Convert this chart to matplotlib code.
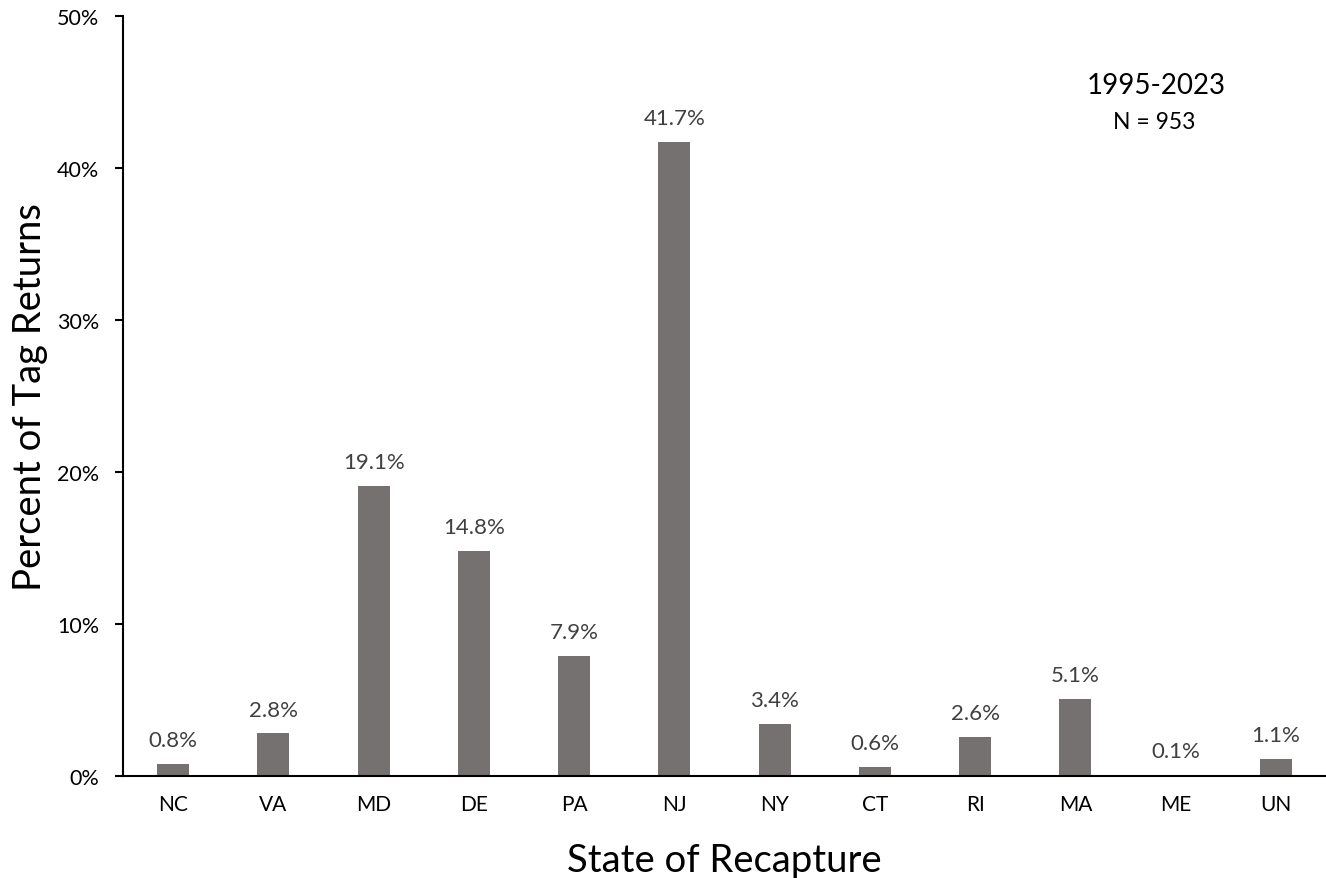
import matplotlib.pyplot as plt
import numpy as np

plt.rcParams['font.family'] = ['Lato', 'DejaVu Sans']

# Tag returns by state of recapture
states = ['NC', 'VA', 'MD', 'DE', 'PA', 'NJ', 'NY', 'CT', 'RI', 'MA', 'ME', 'UN']
percents = [0.8, 2.8, 19.1, 14.8, 7.9, 41.7, 3.4, 0.6, 2.6, 5.1, 0.1, 1.1]
yticks = [0, 10, 20, 30, 40, 50]

fig = plt.figure(figsize=(13.26, 8.79), dpi=100)
ax = fig.add_axes([0.0928, 0.116, 0.9072, 0.8647])

x = np.arange(len(states))
bars = ax.bar(x, percents, width=0.32, color='#767171')

# Value labels above each bar
for xi, val in zip(x, percents):
    ax.annotate(f'{val:.1f}%', (xi, val), xytext=(0, 10), textcoords='offset points',
                ha='center', va='bottom', fontsize=16, color='#404040')

ax.set_xlim(-0.5, len(states) - 0.5)
ax.set_ylim(0, 50)
ax.set_xticks(x)
ax.set_xticklabels(states, fontsize=15)
ax.set_yticks(yticks)
ax.set_yticklabels([f'{t}%' for t in yticks], fontsize=15.5)
ax.tick_params(axis='x', length=0, pad=13)
ax.tick_params(axis='y', length=6, width=1.5, direction='out', pad=11)

for side in ['top', 'right']:
    ax.spines[side].set_visible(False)
for side in ['left', 'bottom']:
    ax.spines[side].set_linewidth(1.5)

ax.set_ylabel('Percent of Tag Returns', fontsize=27.5, va='center')
ax.yaxis.set_label_coords(-0.077, 0.5)
ax.set_xlabel('State of Recapture', fontsize=27.5, labelpad=20)

ax.text(0.859, 0.909, '1995-2023', transform=ax.transAxes, ha='center', va='center', fontsize=20)
ax.text(0.857, 0.861, 'N = 953', transform=ax.transAxes, ha='center', va='center', fontsize=16.5)

fig.savefig('out.png', dpi=100)
